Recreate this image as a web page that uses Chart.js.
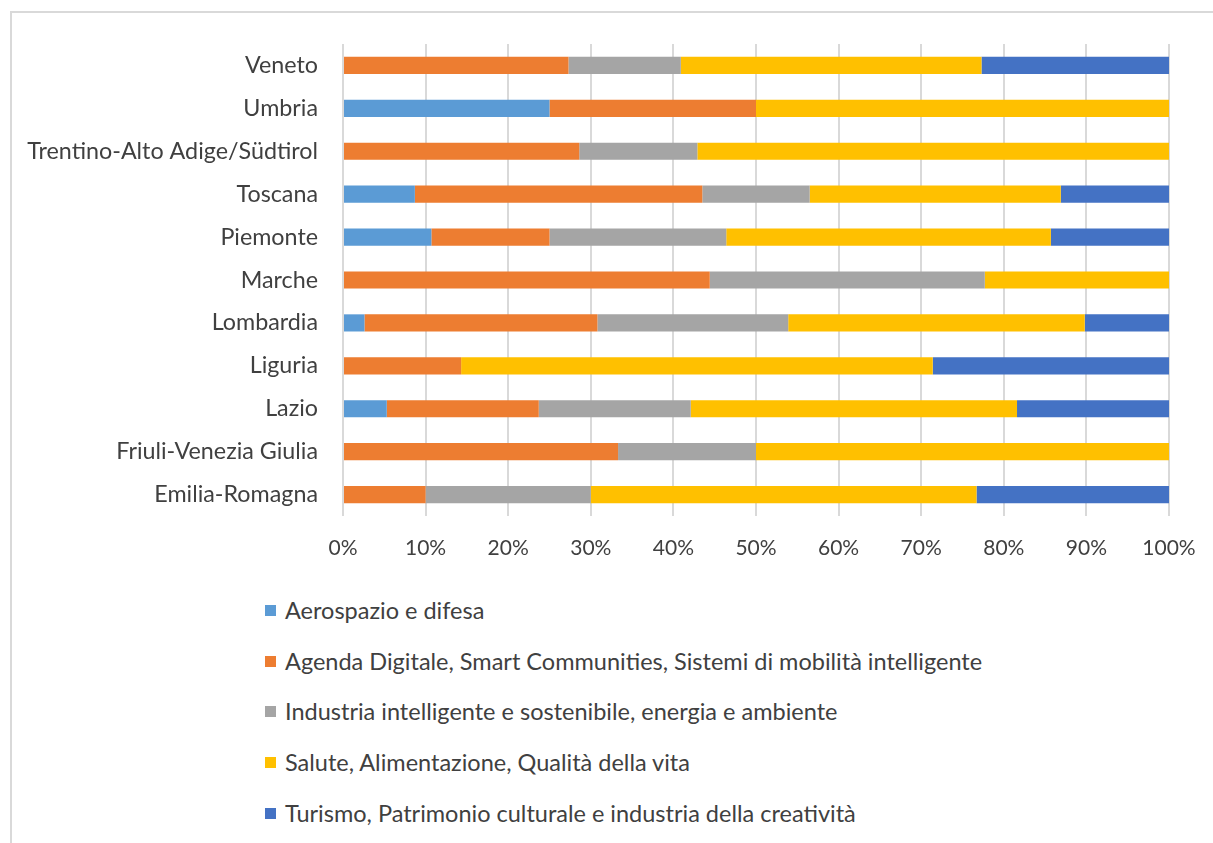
<!DOCTYPE html>
<html lang="it">
<head>
<meta charset="UTF-8" />
<title>Regioni per area di specializzazione</title>
<script src="https://cdn.jsdelivr.net/npm/chart.js@4/dist/chart.umd.min.js"></script>
<style>
  html, body { margin: 0; background: #fff; overflow: hidden; }
  body { font-family: "Lato", sans-serif; color: #404040; width: 1213px; height: 843px; position: relative; }
  #frame { position: absolute; left: 10px; top: 11px; right: 0; bottom: 0;
           border-left: 2px solid #d9d9d9; border-top: 2px solid #d9d9d9; }
  #wrap { position: absolute; left: 0; top: 0; width: 1213px; height: 580px; }
  #legend { position: absolute; left: 265px; top: 585px; list-style: none; margin: 0; padding: 0; }
  #legend li { height: 50.6px; font-size: 23.5px; display: flex; align-items: center; white-space: nowrap; }
  #legend .sw { width: 11px; height: 11px; margin: 1px 9px 0 0; flex: none; }
</style>
</head>
<body>
<div id="frame"></div>
<div id="wrap"><canvas id="chart"></canvas></div>
<ul id="legend"></ul>
<script>
const regions = [
  'Veneto', 'Umbria', 'Trentino-Alto Adige/Südtirol', 'Toscana', 'Piemonte', 'Marche',
  'Lombardia', 'Liguria', 'Lazio', 'Friuli-Venezia Giulia', 'Emilia-Romagna',
];

// shares in % per region (same order as regions)
const aerospazio = [0, 25, 0, 8.7, 10.7, 0, 2.6, 0, 5.3, 0, 0];
const agendaDigitale = [27.3, 25, 28.6, 34.8, 14.3, 44.4, 28.2, 14.3, 18.4, 33.3, 10];
const industria = [13.6, 0, 14.3, 13.0, 21.4, 33.3, 23.1, 0, 18.4, 16.7, 20];
const salute = [36.4, 50, 57.1, 30.4, 39.3, 22.3, 35.9, 57.1, 39.5, 50, 46.7];
const turismo = [22.7, 0, 0, 13.1, 14.3, 0, 10.2, 28.6, 18.4, 0, 23.3];

const xTicks = [0, 10, 20, 30, 40, 50, 60, 70, 80, 90, 100];

const series = [
  { label: 'Aerospazio e difesa', data: aerospazio, color: '#5b9bd5' },
  { label: 'Agenda Digitale, Smart Communities, Sistemi di mobilità intelligente', data: agendaDigitale, color: '#ed7d31' },
  { label: 'Industria intelligente e sostenibile, energia e ambiente', data: industria, color: '#a5a5a5' },
  { label: 'Salute, Alimentazione, Qualità della vita', data: salute, color: '#ffc000' },
  { label: 'Turismo, Patrimonio culturale e industria della creatività', data: turismo, color: '#4472c4' },
];

const catFont = { family: 'Lato', size: 23.3 };
const tickFont = { family: 'Lato', size: 21 };

const chart = new Chart(document.getElementById('chart'), {
  type: 'bar',
  data: {
    labels: regions,
    datasets: series.map((s) => ({
      label: s.label,
      data: s.data,
      backgroundColor: s.color,
      borderWidth: 0,
      barPercentage: 0.4,
      categoryPercentage: 1,
    })),
  },
  options: {
    indexAxis: 'y',
    responsive: true,
    maintainAspectRatio: false,
    animation: false,
    layout: { padding: { top: 44, right: 44, left: 0, bottom: 0 } },
    scales: {
      x: {
        stacked: true,
        min: 0,
        max: 100,
        afterBuildTicks: (axis) => { axis.ticks = xTicks.map((v) => ({ value: v })); },
        afterFit: (axis) => {
          axis.height = 64;
          // let the layout padding alone decide the plot's right edge
          axis.paddingLeft = 0;
          axis.paddingRight = 0;
        },
        ticks: { callback: (v) => v + '%', color: '#404040', font: tickFont, padding: 20, maxRotation: 0 },
        grid: { color: '#d9d9d9', lineWidth: 2, drawTicks: false },
        border: { display: false },
      },
      y: {
        stacked: true,
        afterFit: (axis) => { axis.width = 343; },
        ticks: { color: '#404040', font: catFont, padding: 25, autoSkip: false },
        grid: { display: false, drawTicks: false },
        border: { display: false },
      },
    },
    plugins: {
      legend: { display: false },
      tooltip: { enabled: false },
    },
  },
});

// legend as a plain vertical list under the chart
const legendEl = document.getElementById('legend');
chart.data.datasets.forEach((ds) => {
  const li = document.createElement('li');
  li.innerHTML = `<span class="sw" style="background:${ds.backgroundColor}"></span><span>${ds.label}</span>`;
  legendEl.appendChild(li);
});
</script>
</body>
</html>
